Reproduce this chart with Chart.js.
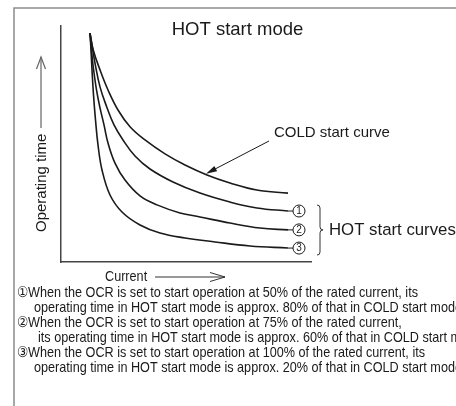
<!DOCTYPE html>
<html>
<head>
<meta charset="utf-8">
<script src="https://cdn.jsdelivr.net/npm/chart.js@4.4.1/dist/chart.umd.min.js"></script>
<style>
  html, body { margin: 0; padding: 0; background: #fff; }
  #wrap { width: 456px; height: 406px; overflow: hidden; }
</style>
</head>
<body>
<div id="wrap"><canvas id="chart" width="456" height="406"></canvas></div>
<script>
// COLD start curve and the three HOT start curves (current vs operating time, arbitrary units)
const coldCurrent = [11.6, 12.9, 15.6, 18.8, 22.8, 27.6, 33.6, 41.6, 49.6, 58.4, 67.6, 78.4, 90.8];
const coldTime    = [97.0, 89.8, 81.4, 72.9, 64.4, 57.3, 51.7, 45.8, 41.1, 36.9, 33.5, 30.5, 29.2];

const hot1Current = [11.6, 12.4, 13.6, 15.6, 18.3, 21.2, 24.8, 29.6, 35.6, 44.8, 55.6, 67.6, 78.4, 90.8];
const hot1Time    = [97.0, 91.9, 84.3, 74.2, 65.7, 58.1, 51.7, 44.9, 39.4, 33.9, 29.2, 25.4, 22.9, 21.6];

const hot2Current = [11.6, 12.2, 12.8, 14.2, 15.6, 17.2, 18.8, 21.6, 25.6, 31.6, 38.4, 47.6, 55.6, 67.6, 79.6, 90.8];
const hot2Time    = [97.0, 89.8, 83.5, 72.9, 65.3, 58.1, 50.4, 41.9, 34.7, 28.0, 24.2, 20.8, 19.1, 16.5, 14.4, 13.6];

const hot3Current = [11.6, 12.0, 12.4, 13.0, 13.8, 14.8, 16.4, 19.6, 24.4, 31.6, 39.6, 49.6, 61.6, 75.6, 90.8];
const hot3Time    = [97.0, 89.8, 81.4, 70.8, 60.2, 49.6, 39.0, 28.4, 21.2, 15.7, 12.3, 10.2, 8.5, 6.8, 5.9];

const hotMarks = ['1', '2', '3'];
const notes = [
  '\u2460When the OCR is set to start operation at 50% of the rated current, its',
  'operating time in HOT start mode is approx. 80% of that in COLD start mode',
  '\u2461When the OCR is set to start operation at 75% of the rated current,',
  'its operating time in HOT start mode is approx. 60% of that in COLD start mode',
  '\u2462When the OCR is set to start operation at 100% of the rated current, its',
  'operating time in HOT start mode is approx. 20% of that in COLD start mode'
];
const noteIndent = [17, 34, 17, 38, 17, 34];

const SANS = '"Liberation Sans", Arial, sans-serif';
const INK = '#1a1a1a';

function toPoints(xs, ys) {
  return xs.map((x, i) => ({ x: x, y: ys[i] }));
}

function curve(label, xs, ys) {
  return {
    label: label,
    data: toPoints(xs, ys),
    borderColor: INK,
    borderWidth: 1.6,
    pointRadius: 0,
    fill: false,
    tension: 0.4
  };
}

function openHead(ctx, tx, ty, bx1, by1, bx2, by2) {
  ctx.beginPath();
  ctx.moveTo(bx1, by1);
  ctx.lineTo(tx, ty);
  ctx.lineTo(bx2, by2);
  ctx.stroke();
}

// narrow text: regular face squeezed horizontally
function narrowText(ctx, text, x, y, squeeze) {
  ctx.save();
  ctx.translate(x, y);
  ctx.scale(squeeze, 1);
  ctx.fillText(text, 0, 0);
  ctx.restore();
}

const decorations = {
  id: 'decorations',
  beforeDraw(chart) {
    const ctx = chart.ctx;
    ctx.save();
    ctx.fillStyle = '#fff';
    ctx.fillRect(0, 0, chart.width, chart.height);
    ctx.restore();
  },
  afterDraw(chart) {
    const ctx = chart.ctx;
    const xs = chart.scales.x, ys = chart.scales.y;
    ctx.save();

    // outer frame
    ctx.strokeStyle = '#8c8c8c';
    ctx.lineWidth = 1.5;
    ctx.beginPath();
    ctx.moveTo(14, chart.height + 2);
    ctx.lineTo(14, 8);
    ctx.lineTo(chart.width + 2, 8);
    ctx.stroke();

    // title
    ctx.fillStyle = INK;
    ctx.font = '18.5px ' + SANS;
    ctx.textAlign = 'center';
    ctx.textBaseline = 'alphabetic';
    ctx.fillText('HOT start mode', 237.5, 35);

    // y axis caption with arrow
    ctx.save();
    ctx.translate(41.5, 232);
    ctx.rotate(-Math.PI / 2);
    ctx.font = '15px ' + SANS;
    ctx.textAlign = 'left';
    ctx.textBaseline = 'middle';
    ctx.fillText('Operating time', 0, 0);
    ctx.restore();
    ctx.strokeStyle = '#666';
    ctx.lineWidth = 1.2;
    ctx.beginPath();
    ctx.moveTo(41, 128);
    ctx.lineTo(41, 57);
    ctx.stroke();
    openHead(ctx, 41, 57, 36.5, 69, 45.5, 69);

    // footnote squeeze so the first line runs to x=418
    ctx.font = '15px ' + SANS;
    ctx.textAlign = 'left';
    const squeeze = (418 - noteIndent[0]) / ctx.measureText(notes[0]).width;

    // x axis caption with arrow
    ctx.textBaseline = 'middle';
    narrowText(ctx, 'Current', 105, 277, squeeze);
    ctx.strokeStyle = '#333';
    ctx.lineWidth = 1;
    ctx.beginPath();
    ctx.moveTo(155, 277);
    ctx.lineTo(225, 277);
    ctx.stroke();
    openHead(ctx, 225, 277, 210, 272.5, 210, 281.5);

    // COLD start curve label and pointer
    ctx.font = '15px ' + SANS;
    ctx.fillText('COLD start curve', 274, 133);
    const tipX = xs.getPixelForValue(58), tipY = ys.getPixelForValue(37.4);
    const fromX = 269, fromY = 141;
    const ang = Math.atan2(tipY - fromY, tipX - fromX);
    ctx.strokeStyle = INK;
    ctx.lineWidth = 1;
    ctx.beginPath();
    ctx.moveTo(fromX, fromY);
    ctx.lineTo(tipX - 8 * Math.cos(ang), tipY - 8 * Math.sin(ang));
    ctx.stroke();
    ctx.beginPath();
    ctx.moveTo(tipX, tipY);
    ctx.lineTo(tipX - 11 * Math.cos(ang) + 3 * Math.sin(ang), tipY - 11 * Math.sin(ang) - 3 * Math.cos(ang));
    ctx.lineTo(tipX - 11 * Math.cos(ang) - 3 * Math.sin(ang), tipY - 11 * Math.sin(ang) + 3 * Math.cos(ang));
    ctx.closePath();
    ctx.fill();

    // circled markers at the end of each HOT curve
    const ends = [
      [hot1Current, hot1Time],
      [hot2Current, hot2Time],
      [hot3Current, hot3Time]
    ].map(([cx, ty]) => ({
      x: xs.getPixelForValue(cx[cx.length - 1]),
      y: ys.getPixelForValue(ty[ty.length - 1])
    }));
    ctx.lineWidth = 1;
    ctx.font = '10px ' + SANS;
    ctx.textAlign = 'center';
    ctx.textBaseline = 'middle';
    ends.forEach((p, i) => {
      const cx = p.x + 11;
      ctx.beginPath();
      ctx.moveTo(p.x, p.y);
      ctx.lineTo(cx - 6, p.y);
      ctx.stroke();
      ctx.beginPath();
      ctx.arc(cx, p.y, 6, 0, Math.PI * 2);
      ctx.stroke();
      ctx.fillText(hotMarks[i], cx, p.y + 0.5);
    });

    // brace grouping the HOT curves
    const top = ends[0].y - 6, bot = ends[2].y + 7, mid = ends[1].y;
    ctx.strokeStyle = '#333';
    ctx.beginPath();
    ctx.moveTo(317, top);
    ctx.quadraticCurveTo(320, top, 320, top + 3);
    ctx.lineTo(320, mid - 3);
    ctx.quadraticCurveTo(320, mid, 323, mid);
    ctx.quadraticCurveTo(320, mid, 320, mid + 3);
    ctx.lineTo(320, bot - 3);
    ctx.quadraticCurveTo(320, bot, 317, bot);
    ctx.stroke();
    ctx.font = '16.8px ' + SANS;
    ctx.textAlign = 'left';
    ctx.fillText('HOT start curves', 329, mid);

    // footnotes
    ctx.font = '15px ' + SANS;
    ctx.textBaseline = 'alphabetic';
    notes.forEach((line, i) => {
      narrowText(ctx, line, noteIndent[i], 297.3 + 14.9 * i, squeeze);
    });

    ctx.restore();
  }
};

const flatAxis = {
  ticks: { display: false },
  grid: { display: false },
  border: { color: '#444', width: 1.5 }
};

new Chart(document.getElementById('chart'), {
  type: 'line',
  data: {
    datasets: [
      curve('COLD start', coldCurrent, coldTime),
      curve('HOT 1', hot1Current, hot1Time),
      curve('HOT 2', hot2Current, hot2Time),
      curve('HOT 3', hot3Current, hot3Time)
    ]
  },
  options: {
    responsive: false,
    animation: false,
    events: [],
    layout: { padding: { left: 61, top: 26, right: 145, bottom: 144 } },
    plugins: { legend: { display: false }, tooltip: { enabled: false } },
    scales: {
      x: Object.assign({ type: 'linear', min: 0, max: 100, afterFit: (s) => { s.height = 0; } }, flatAxis),
      y: Object.assign({ type: 'linear', min: 0, max: 100, afterFit: (s) => { s.width = 0; } }, flatAxis)
    }
  },
  plugins: [decorations]
});
</script>
</body>
</html>
